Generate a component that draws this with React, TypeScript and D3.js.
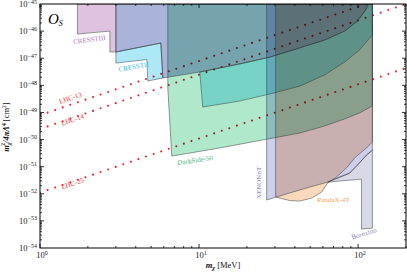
import React, { useRef, useEffect } from 'react';
import * as d3 from 'd3';

// every point: [m_chi in MeV, log10 of m^2/4piLambda^4 in cm^2]
const cresstIII = [[1.72, -45], [1.72, -46.11], [2.75, -46.0], [2.75, -46.77], [3.0, -46.77], [3.0, -45]];
const blueBound = [[3.0, -45], [3.0, -46.77], [5.75, -46.44], [5.92, -47.73], [10.1, -47.51], [18.0, -47.21],
  [27.8, -46.96], [42.9, -46.62], [61.5, -46.33], [82.2, -46.0], [99.1, -45.63], [111.3, -45.22], [116.2, -45]];
const cresstIILeft = [[3.0, -46.77], [5.75, -46.44], [5.92, -47.73], [4.76, -47.84], [4.7, -47.05], [3.0, -47.18]];
const cresstIIRight = [[10.1, -47.51], [18.0, -47.21], [27.8, -46.96], [42.9, -46.62], [61.5, -46.33], [82.2, -46.0],
  [99.1, -45.63], [111.3, -45.22], [116.2, -45], [123, -45], [123, -46.14], [102, -46.7], [82.2, -47.14],
  [61.5, -47.62], [42.9, -48.03], [27.8, -48.32], [18.0, -48.58], [10.55, -48.8]];
const darkSide = [[6.36, -45], [6.36, -48.1], [6.74, -50.61], [13.5, -50.31], [27.0, -49.98], [42.9, -49.76],
  [61.5, -49.5], [82.2, -49.24], [102, -49.02], [123, -48.76], [123, -45]];
const xenonNT = [[26.6, -45], [26.6, -52.23], [30.7, -52.12], [42.9, -51.86], [64.2, -51.57], [88.3, -51.24],
  [99.1, -50.94], [113, -50.57], [123, -50.39], [123, -45]];
const pandaX = [[30.3, -45], [30.3, -52.12], [37.1, -52.25], [42.9, -52.27], [51.0, -52.16], [58.9, -51.94],
  [64.2, -51.61], [73.2, -51.38], [85.8, -51.01], [94.9, -50.68], [113, -50.31], [123, -50.09], [123, -45]];
const borexino = [[64.2, -51.57], [105, -51.46], [105, -53.3], [123, -53.27], [123, -50.39], [113, -50.57],
  [99.1, -50.94], [88.3, -51.24]];

const lhc13 = [[1, -49.1], [200, -44.5]];
const lhc14 = [[1, -49.61], [200, -45.0]];
const lhc25 = [[1, -51.96], [200, -47.36]];

const yDecades = [-54, -53, -52, -51, -50, -49, -48, -47, -46, -45];
const xDecades = [0, 1, 2];

const regions = [
  { polys: [cresstIII], color: '#dfc2e0', opacity: 1 },
  { polys: [blueBound], color: '#aab4da', opacity: 1 },
  { polys: [cresstIILeft, cresstIIRight], color: '#ace8f6', opacity: 1 },
  { polys: [darkSide], color: '#b0e8cc', opacity: 1 },
  { polys: [xenonNT], color: '#b8bae6', opacity: 0.7 },
  { polys: [pandaX], color: '#f8c8a0', opacity: 0.7 },
  { polys: [borexino], color: '#d8d8e6', opacity: 1 }
];

const labels = [
  { text: 'CRESSTIII', at: [2.05, -46.4], rot: -7, color: '#b36fbb' },
  { text: 'CRESSTII', at: [3.9, -47.4], rot: -10, color: '#36b9e6' },
  { text: 'DarkSide-50', at: [9.5, -50.85], rot: -8, color: '#3db679' },
  { text: 'XENONnT', at: [24.5, -51.6], rot: -90, color: '#7777bb' },
  { text: 'PandaX-4T', at: [70, -52.3], rot: 0, color: '#f2a24c' },
  { text: 'Borexino', at: [110, -53.55], rot: -17, color: '#8a8ab2' },
  { text: 'LHC-13', at: [1.57, -48.55], rot: -18.5, color: '#e8333a' },
  { text: 'LHC-14', at: [1.62, -49.35], rot: -18.5, color: '#e8333a' },
  { text: 'LHC-25', at: [1.62, -51.7], rot: -18.5, color: '#e8333a' }
];

const font = "'Liberation Serif', 'Times New Roman', serif";

export default function App() {
  const svgRef = useRef(null);

  useEffect(() => {
    const width = 407, height = 272;
    const left = 40, right = 406, top = 4, bottom = 248;
    const svg = d3.select(svgRef.current);
    svg.selectAll('*').remove();

    const x = d3.scaleLog().domain([1, 200]).range([left, right]);
    const y = d3.scaleLog().domain([1e-54, 1e-45]).range([bottom, top]);
    const px = d => x(d[0]);
    const py = d => y(Math.pow(10, d[1]));
    const line = d3.line().x(px).y(py);

    svg.append('rect').attr('width', width).attr('height', height).attr('fill', '#fff');

    svg.append('defs').append('clipPath').attr('id', 'plotArea')
      .append('rect').attr('x', left).attr('y', top).attr('width', right - left).attr('height', bottom - top);

    const g = svg.append('g').attr('clip-path', 'url(#plotArea)');
    g.append('rect').attr('x', left).attr('y', top).attr('width', right - left).attr('height', bottom - top).attr('fill', '#fff');

    // LHC projections, dotted
    [lhc13, lhc14, lhc25].forEach(l => {
      g.append('path')
        .attr('d', line(l))
        .attr('fill', 'none')
        .attr('stroke', '#e8262b')
        .attr('stroke-width', 2.1)
        .attr('stroke-linecap', 'round')
        .attr('stroke-dasharray', '0 8');
    });

    // excluded regions, overlapping like transparencies
    regions.forEach(r => {
      r.polys.forEach(p => {
        g.append('path')
          .attr('d', line(p) + 'Z')
          .attr('fill', r.color)
          .attr('fill-opacity', r.opacity)
          .style('mix-blend-mode', 'multiply');
      });
    });
    regions.forEach(r => {
      r.polys.forEach(p => {
        g.append('path')
          .attr('d', line(p) + 'Z')
          .attr('fill', 'none')
          .attr('stroke', '#2f3a3a')
          .attr('stroke-opacity', 0.7)
          .attr('stroke-width', 0.7)
          .attr('stroke-linejoin', 'round');
      });
    });

    // region and line labels
    labels.forEach(l => {
      svg.append('text')
        .attr('transform', `translate(${px(l.at)},${py(l.at)}) rotate(${l.rot})`)
        .attr('text-anchor', 'middle')
        .attr('font-family', font)
        .attr('font-size', 7)
        .attr('fill', l.color)
        .text(l.text);
    });

    // frame
    svg.append('rect')
      .attr('x', left).attr('y', top).attr('width', right - left).attr('height', bottom - top)
      .attr('fill', 'none').attr('stroke', '#000').attr('stroke-width', 1);

    const isMajor = v => Math.abs(Math.log10(v) - Math.round(Math.log10(v))) < 1e-6;
    const ticks = svg.append('g').attr('stroke', '#000').attr('stroke-width', 0.8);

    x.ticks().forEach(v => {
      const len = isMajor(v) ? 4 : 2;
      const xx = x(v);
      ticks.append('line').attr('x1', xx).attr('x2', xx).attr('y1', bottom).attr('y2', bottom - len);
      ticks.append('line').attr('x1', xx).attr('x2', xx).attr('y1', top).attr('y2', top + len);
    });
    y.ticks().forEach(v => {
      const len = isMajor(v) ? 4 : 2;
      const yy = y(v);
      ticks.append('line').attr('x1', left).attr('x2', left + len).attr('y1', yy).attr('y2', yy);
      ticks.append('line').attr('x1', right).attr('x2', right - len).attr('y1', yy).attr('y2', yy);
    });

    yDecades.forEach(k => {
      const t = svg.append('text')
        .attr('x', left - 3)
        .attr('y', y(Math.pow(10, k)) + 3)
        .attr('text-anchor', 'end')
        .attr('font-family', font)
        .attr('font-size', 8.5)
        .attr('fill', '#222');
      t.append('tspan').text('10');
      t.append('tspan').attr('dy', -3.5).attr('font-size', 6).text('\u2212' + Math.abs(k));
    });

    xDecades.forEach(k => {
      const t = svg.append('text')
        .attr('x', x(Math.pow(10, k)) + 2)
        .attr('y', bottom + 10)
        .attr('text-anchor', 'middle')
        .attr('font-family', font)
        .attr('font-size', 8.5)
        .attr('fill', '#222');
      t.append('tspan').text('10');
      t.append('tspan').attr('dy', -3.5).attr('font-size', 6).text(String(k));
    });

    // axis titles
    const xl = svg.append('text')
      .attr('x', 223).attr('y', 268)
      .attr('text-anchor', 'middle')
      .attr('font-family', font)
      .attr('font-size', 8.5)
      .attr('fill', '#111');
    xl.append('tspan').attr('font-weight', 'bold').attr('font-style', 'italic').text('m');
    xl.append('tspan').attr('font-weight', 'bold').attr('font-style', 'italic').attr('font-size', 6).attr('dy', 2).text('\u03c7');
    xl.append('tspan').attr('dy', -2).text(' [MeV]');

    const yl = svg.append('text')
      .attr('transform', 'translate(9,127) rotate(-90)')
      .attr('text-anchor', 'middle')
      .attr('font-family', font)
      .attr('font-size', 8.5)
      .attr('fill', '#111');
    yl.append('tspan').attr('font-weight', 'bold').attr('font-style', 'italic').text('m');
    yl.append('tspan').attr('font-weight', 'bold').attr('font-style', 'italic').attr('font-size', 5.5).attr('dy', 2).text('\u03c7');
    yl.append('tspan').attr('font-weight', 'bold').attr('font-size', 5.5).attr('dx', -3.2).attr('dy', -6).text('2');
    yl.append('tspan').attr('font-weight', 'bold').attr('font-style', 'italic').attr('dy', 4).text('/4\u03c0\u039b');
    yl.append('tspan').attr('font-weight', 'bold').attr('font-size', 5.5).attr('dy', -3.5).text('4');
    yl.append('tspan').attr('dy', 3.5).text(' [cm');
    yl.append('tspan').attr('font-size', 5.5).attr('dy', -3.5).text('2');
    yl.append('tspan').attr('dy', 3.5).text(']');

    // operator name
    const title = svg.append('text')
      .attr('x', 48).attr('y', 24)
      .attr('font-family', font)
      .attr('font-size', 15)
      .attr('font-style', 'italic')
      .attr('fill', '#000');
    title.append('tspan').text('O');
    title.append('tspan').attr('font-size', 8).attr('dy', 2).text('S');
  }, []);

  return (
    <svg
      ref={svgRef}
      width={407}
      height={272}
      style={{ position: 'absolute', left: 0, top: 0 }}
    />
  );
}
